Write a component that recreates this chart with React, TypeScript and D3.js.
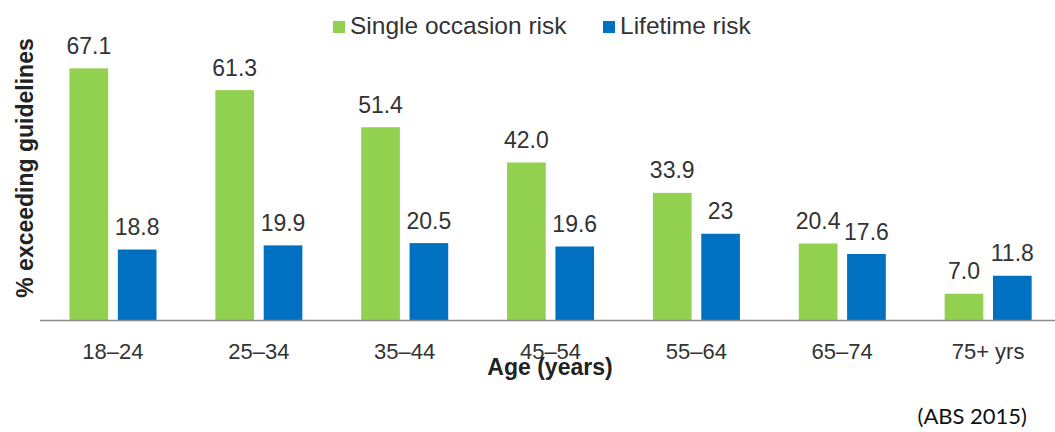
import React, { useEffect, useRef } from 'react';
import * as d3 from 'd3';

const ageGroups = ['18–24', '25–34', '35–44', '45–54', '55–64', '65–74', '75+ yrs'];
const singleOccasion = [67.1, 61.3, 51.4, 42.0, 33.9, 20.4, 7.0];
const lifetime = [18.8, 19.9, 20.5, 19.6, 23, 17.6, 11.8];
const singleLabels = ['67.1', '61.3', '51.4', '42.0', '33.9', '20.4', '7.0'];
const lifetimeLabels = ['18.8', '19.9', '20.5', '19.6', '23', '17.6', '11.8'];
const seriesNames = ['Single occasion risk', 'Lifetime risk'];
const seriesColors = ['#92D050', '#0070C0'];

export default function App() {
  const ref = useRef<SVGSVGElement>(null);

  useEffect(() => {
    const svg = d3.select(ref.current);
    svg.selectAll('*').remove();

    const width = 1055;
    const baseline = 320;

    const x0 = d3.scaleBand().domain(ageGroups).range([40, 1061]);
    const x1 = d3.scaleBand()
      .domain(seriesNames)
      .range([29.5, 116.5])
      .paddingInner(0.2);
    const y = d3.scaleLinear().domain([0, 80]).range([baseline, 20]);

    const rows = ageGroups.map((g, i) => ({
      group: g,
      vals: [
        { s: seriesNames[0], v: singleOccasion[i], label: singleLabels[i], c: seriesColors[0] },
        { s: seriesNames[1], v: lifetime[i], label: lifetimeLabels[i], c: seriesColors[1] },
      ],
    }));

    const groups = svg.selectAll('.grp')
      .data(rows)
      .enter()
      .append('g')
      .attr('class', 'grp')
      .attr('transform', d => `translate(${x0(d.group)},0)`);

    groups.selectAll('rect')
      .data(d => d.vals)
      .enter()
      .append('rect')
      .attr('x', d => x1(d.s)!)
      .attr('y', d => y(d.v))
      .attr('width', x1.bandwidth())
      .attr('height', d => baseline - y(d.v))
      .attr('fill', d => d.c);

    groups.selectAll('.lbl')
      .data(d => d.vals)
      .enter()
      .append('text')
      .attr('class', 'lbl')
      .attr('x', d => x1(d.s)! + x1.bandwidth() / 2)
      .attr('y', d => y(d.v) - 14.5)
      .attr('text-anchor', 'middle')
      .attr('fill', '#333')
      .style('font-family', '"Liberation Sans", Arial, sans-serif')
      .style('font-size', '23px')
      .text(d => d.label);

    // x axis line
    svg.append('line')
      .attr('x1', 40)
      .attr('x2', width)
      .attr('y1', baseline + 0.5)
      .attr('y2', baseline + 0.5)
      .attr('stroke', '#8c8c8c')
      .attr('stroke-width', 1.5);

    svg.selectAll('.tick-lbl')
      .data(ageGroups)
      .enter()
      .append('text')
      .attr('class', 'tick-lbl')
      .attr('x', d => x0(d)! + x0.bandwidth() / 2)
      .attr('y', 359)
      .attr('text-anchor', 'middle')
      .attr('fill', '#333')
      .style('font-family', '"Liberation Sans", Arial, sans-serif')
      .style('font-size', '22px')
      .text(d => d);

    svg.append('text')
      .attr('x', 550)
      .attr('y', 375)
      .attr('text-anchor', 'middle')
      .attr('fill', '#222')
      .style('font-family', '"Liberation Sans", Arial, sans-serif')
      .style('font-size', '23px')
      .style('font-weight', 'bold')
      .text('Age (years)');

    svg.append('text')
      .attr('transform', `translate(33,168) rotate(-90)`)
      .attr('text-anchor', 'middle')
      .attr('fill', '#222')
      .style('font-family', '"Liberation Sans", Arial, sans-serif')
      .style('font-size', '23px')
      .style('font-weight', 'bold')
      .text('% exceeding guidelines');

    // legend
    const legendX = [333, 603];
    const legend = svg.selectAll('.leg')
      .data(seriesNames)
      .enter()
      .append('g')
      .attr('class', 'leg')
      .attr('transform', (d, i) => `translate(${legendX[i]},21)`);
    legend.append('rect')
      .attr('width', 12)
      .attr('height', 12)
      .attr('fill', (d, i) => seriesColors[i]);
    legend.append('text')
      .attr('x', 17)
      .attr('y', 13)
      .attr('fill', '#333')
      .style('font-family', '"Liberation Sans", Arial, sans-serif')
      .style('font-size', '24.5px')
      .text(d => d);

    svg.append('text')
      .attr('x', 1027)
      .attr('y', 424)
      .attr('text-anchor', 'end')
      .attr('fill', '#111')
      .style('font-family', 'Lato, "Open Sans", sans-serif')
      .style('font-size', '22px')
      .text('(ABS 2015)');
  }, []);

  return (
    <svg
      ref={ref}
      width={1055}
      height={432}
      style={{ position: 'absolute', left: 0, top: 0, background: '#fff' }}
    />
  );
}
